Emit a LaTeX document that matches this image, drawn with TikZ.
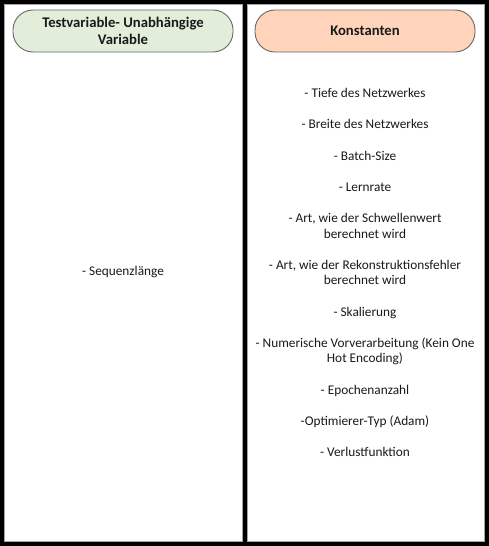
\documentclass[tikz,border=0pt]{standalone}
\usepackage{fontspec}
\setmainfont{Carlito}
\definecolor{hdrgreen}{HTML}{E2EDDA}
\definecolor{hdrorange}{HTML}{FFD4BA}
\definecolor{pillborder}{HTML}{666666}
\definecolor{txt}{HTML}{1A1A1A}
\tikzset{
  panel/.style={draw=black, line width=4pt, rectangle, anchor=north west, inner sep=0pt},
  pill/.style={draw=pillborder, line width=0.9pt, rounded corners=20pt, minimum width=220pt, minimum height=42pt, inner sep=0pt, align=center, font=\fontsize{14.7}{17}\selectfont\bfseries, text=txt},
  item/.style={align=center, font=\fontsize{13.3}{15.6}\selectfont, text=txt, inner sep=0pt},
}
\begin{document}
\begin{tikzpicture}[x=1pt,y=-1pt]
\useasboundingbox (0,0) rectangle (489,546);
\fill[white] (0,0) rectangle (489,546);
% panels
\draw[black, line width=4pt] (2,2) rectangle (245,544);
\draw[black, line width=4pt] (245,2) rectangle (487,544);
\draw[gray!70, line width=0.6pt] (4.3,4.3) rectangle (242.5,541.5);
\draw[gray!70, line width=0.6pt] (247.5,4.3) rectangle (484.5,541.5);
% headers
\node[pill, fill=hdrgreen] (hleft) at (123,31) {Testvariable- Unabhängige\\Variable};
\node[pill, fill=hdrorange] (hright) at (365,31) {Konstanten};
% content
\node[item] (left) at (123,272) {- Sequenzlänge};
\node[item] (right) at (365,272.5) {- Tiefe des Netzwerkes\\[15.6pt]
- Breite des Netzwerkes\\[15.6pt]
- Batch-Size\\[15.6pt]
- Lernrate\\[15.6pt]
- Art, wie der Schwellenwert\\berechnet wird\\[15.6pt]
- Art, wie der Rekonstruktionsfehler\\berechnet wird\\[15.6pt]
- Skalierung\\[15.6pt]
- Numerische Vorverarbeitung (Kein One\\Hot Encoding)\\[15.6pt]
- Epochenanzahl\\[15.6pt]
-Optimierer-Typ (Adam)\\[15.6pt]
- Verlustfunktion};
\end{tikzpicture}
\end{document}
